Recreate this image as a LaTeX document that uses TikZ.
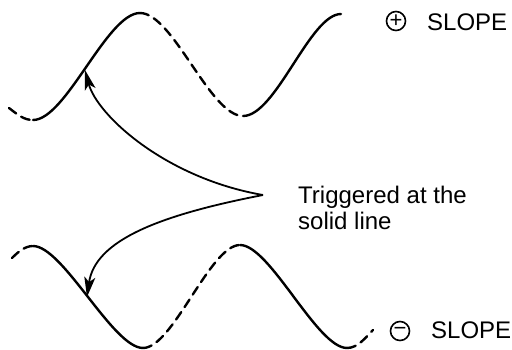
\documentclass[tikz,border=0pt]{standalone}
\usepackage{fontspec}
\setmainfont{Liberation Sans}
\usetikzlibrary{arrows.meta}
\tikzset{
  wave/.style={line width=2.4pt, line cap=round},
  dashwave/.style={wave, dash pattern=on 9pt off 6pt},
  pointer/.style={line width=1.8pt, -{Stealth[length=20pt,width=11pt,inset=5pt]}},
  lbl/.style={font=\fontsize{24pt}{26pt}\selectfont, inner sep=0pt, anchor=base west},
  sign/.style={circle, draw, line width=1.6pt, minimum size=19pt, inner sep=0pt,
    font=\fontsize{22pt}{22pt}\selectfont}
}
\begin{document}
\begin{tikzpicture}[x=1pt,y=-1pt]
\useasboundingbox (0,0) rectangle (512,349);
% top wave (+ slope)
\coordinate (t0) at (9,108);
\coordinate (t1) at (33,120);
\coordinate (t2) at (140,13);
\coordinate (t3) at (243,116);
\coordinate (t4) at (341,14);
\draw[dashwave] (t0) .. controls (18,115) and (24,120) .. (t1);
\draw[wave] (t1) .. controls (66,120) and (107,13) .. (t2);
\draw[dashwave] (t2) .. controls (173,13) and (210,116) .. (t3);
\draw[wave] (t3) .. controls (276,116) and (310,14) .. (t4);
% bottom wave (- slope)
\coordinate (b0) at (12,258);
\coordinate (b1) at (33,246);
\coordinate (b2) at (143,348);
\coordinate (b3) at (240,245);
\coordinate (b4) at (347,348);
\coordinate (b5) at (373,330);
\draw[dashwave] (b0) .. controls (18,252) and (25,246) .. (b1);
\draw[wave] (b1) .. controls (63,246) and (113,348) .. (b2);
\draw[dashwave] (b2) .. controls (173,348) and (210,245) .. (b3);
\draw[wave] (b3) .. controls (270,245) and (317,348) .. (b4);
\draw[dashwave] (b4) .. controls (358,348) and (366,337) .. (b5);
% pointers
\coordinate (cusp) at (263,195);
\coordinate (ta) at (85,70);
\coordinate (ba) at (87,297);
\draw[pointer] (cusp) .. controls (165,178) and (97,115) .. (ta);
\draw[pointer] (cusp) .. controls (160,215) and (95,240) .. (ba);
% labels
\node[sign] (plus) at (396,21) {+};
\node[lbl] (pslope) at (427,30) {SLOPE};
\node[sign] (minus) at (400,331) {−};
\node[lbl] (mslope) at (431,338) {SLOPE};
\node[lbl] (trig1) at (298,203) {Triggered at the};
\node[lbl] (trig2) at (298,229) {solid line};
\end{tikzpicture}
\end{document}
